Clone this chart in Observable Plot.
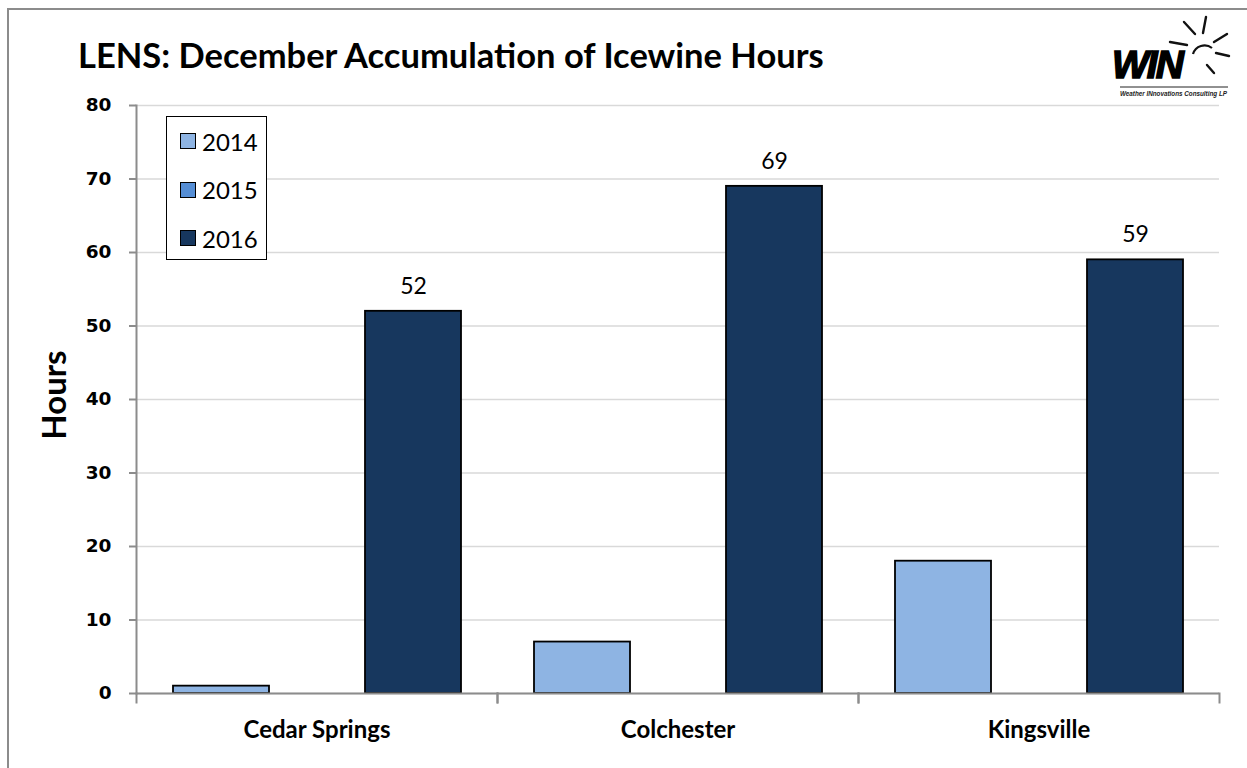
<!DOCTYPE html>
<html>
<head>
<meta charset="utf-8">
<script src="https://cdn.jsdelivr.net/npm/d3@7"></script>
<script src="https://cdn.jsdelivr.net/npm/@observablehq/plot@0.6"></script>
<style>
  html, body { margin: 0; padding: 0; background: #fff; }
  #wrap { position: relative; width: 1247px; height: 768px; overflow: hidden; background: #fff; }
  #border { position: absolute; left: 7px; top: 8px; width: 1260px; height: 780px; border: 2px solid #8c8c8c; box-sizing: border-box; }
  #chart { position: absolute; left: 0; top: 0; }
  #title { position: absolute; left: 78px; top: 38px; font-family: Lato, "Open Sans", sans-serif; font-weight: 700; font-size: 34.5px; color: #000; white-space: nowrap; line-height: 1; }
  #ylabel { position: absolute; left: 53px; top: 395px; transform: translate(-50%, -50%) rotate(-90deg); font-family: Lato, "Open Sans", sans-serif; font-weight: 700; font-size: 33px; color: #000; white-space: nowrap; line-height: 1; }
  #legend { position: absolute; left: 166px; top: 116px; width: 101px; height: 144px; border: 1.5px solid #000; box-sizing: border-box; background: #fff; font-family: Lato, "Open Sans", sans-serif; font-size: 24px; color: #000; }
  .item { position: absolute; left: 13px; display: flex; align-items: center; height: 30px; }
  .sw { width: 14px; height: 14px; border: 1px solid #000; margin-right: 6px; }
  #logo { position: absolute; left: 1100px; top: 10px; }
</style>
</head>
<body>
<div id="wrap">
  <div id="border"></div>
  <div id="chart"></div>
  <div id="title"></div>
  <div id="ylabel"></div>
  <div id="legend"></div>
  <svg id="logo" width="140" height="100" viewBox="0 0 140 100">
    <g stroke="#111" stroke-width="2.4" stroke-linecap="round">
      <line x1="84" y1="12" x2="95" y2="24"/>
      <line x1="106" y1="7" x2="103" y2="23"/>
      <line x1="127" y1="24" x2="114" y2="32"/>
      <line x1="129" y1="46" x2="116" y2="43"/>
      <line x1="114" y1="63" x2="107" y2="55"/>
      <line x1="70" y1="32" x2="87" y2="35"/>
    </g>
    <path d="M93 44 A12 12 0 0 1 112 38" fill="none" stroke="#111" stroke-width="2.2"/>
    <text x="12" y="68" font-family="Liberation Sans, Arial, sans-serif" font-weight="900" font-style="italic" font-size="39" fill="#000" stroke="#000" stroke-width="1.6" letter-spacing="-2">WIN</text>
    <line x1="20" y1="77" x2="128" y2="77" stroke="#222" stroke-width="1"/>
    <text x="20" y="86" font-family="Liberation Sans, Arial, sans-serif" font-weight="700" font-style="italic" font-size="6.3" fill="#222">Weather INnovations Consulting LP</text>
  </svg>
</div>
<script>
const titleText = "LENS: December Accumulation of Icewine Hours";
const yLabel = "Hours";
const sites = ["Cedar Springs", "Colchester", "Kingsville"];
const years = ["2014", "2015", "2016"];
const hours2014 = [1, 7, 18];
const hours2015 = [0, 0, 0];
const hours2016 = [52, 69, 59];
const yTicks = [0, 10, 20, 30, 40, 50, 60, 70, 80];
const colors = ["#8EB4E3", "#558ED5", "#17375E"];

const series = {"2014": hours2014, "2015": hours2015, "2016": hours2016};
const rows = [];
sites.forEach((s, i) => years.forEach(y => rows.push({site: s, year: y, hours: series[y][i]})));

document.getElementById("title").textContent = titleText;
document.getElementById("ylabel").textContent = yLabel;

const legend = document.getElementById("legend");
years.forEach((y, i) => {
  const it = document.createElement("div");
  it.className = "item";
  it.style.top = (9 + i * 48.5) + "px";
  const sw = document.createElement("div");
  sw.className = "sw";
  sw.style.background = colors[i];
  const t = document.createElement("span");
  t.textContent = y;
  it.appendChild(sw); it.appendChild(t);
  legend.appendChild(it);
});

const W = 1247, H = 768, mT = 105, mB = 75, mL = 135, mR = 27;
const plotH = H - mT - mB;

const chart = Plot.plot({
  width: W,
  height: H,
  marginTop: mT,
  marginBottom: mB,
  marginLeft: mL,
  marginRight: mR,
  style: {background: "transparent", overflow: "visible"},
  fx: {domain: sites, padding: 0, axis: null},
  x: {domain: years, paddingInner: 0, paddingOuter: 0.38, axis: null},
  y: {domain: [0, 80], axis: null},
  color: {domain: years, range: colors},
  marks: [
    Plot.gridY(yTicks, {stroke: "#d9d9d9", strokeOpacity: 1, strokeWidth: 1.3}),
    Plot.barY(rows.filter(d => d.hours > 0), {fx: "site", x: "year", y: "hours", fill: "year", stroke: "#000", strokeWidth: 1.8}),
    Plot.text(rows.filter(d => d.year === "2016"), {fx: "site", x: "year", y: "hours", text: d => String(d.hours), dy: -25, fontSize: 23, fontFamily: "Lato, 'Open Sans', sans-serif", fill: "#000"}),
    Plot.ruleY([0], {stroke: "#8c8c8c", strokeWidth: 2}),
    Plot.frame({anchor: "left", facetAnchor: "left", stroke: "#8c8c8c", strokeWidth: 2}),
    Plot.frame({anchor: "left", insetTop: plotH, insetBottom: -9, stroke: "#8c8c8c", strokeWidth: 2}),
    Plot.frame({anchor: "right", insetTop: plotH, insetBottom: -9, stroke: "#8c8c8c", strokeWidth: 2}),
    Plot.axisY(yTicks, {anchor: "left", tickSize: 7, tickFormat: () => "", stroke: "#8c8c8c", strokeWidth: 2, label: null}),
    Plot.text(yTicks, {y: d => d, text: d => String(d), frameAnchor: "left", facetAnchor: "left", dx: -25, textAnchor: "end", fontSize: 18.5, fontWeight: "bold", fontFamily: "'DejaVu Sans', Verdana, sans-serif", fill: "#000"}),
    Plot.axisFx({anchor: "bottom", tickSize: 0, tickPadding: 27, fontSize: 24, fontWeight: "bold", fontFamily: "Lato, 'Open Sans', sans-serif", fill: "#000", label: null})
  ]
});
document.getElementById("chart").appendChild(chart);
</script>
</body>
</html>
